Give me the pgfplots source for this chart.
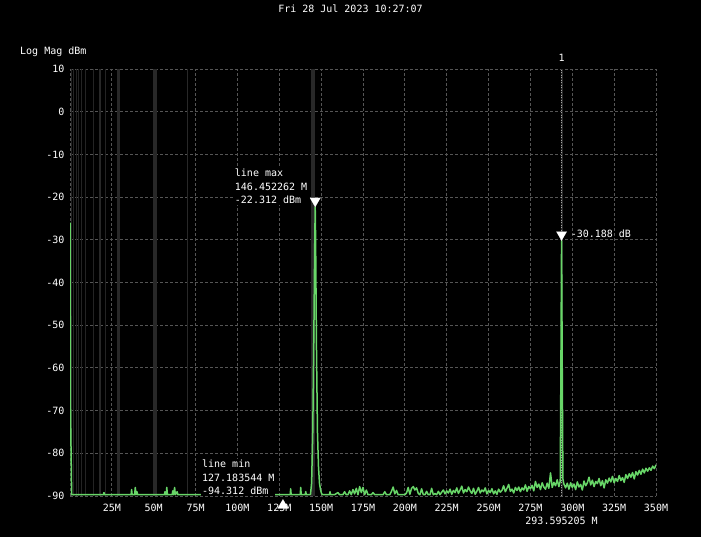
\documentclass[border=0pt]{standalone}
\usepackage{pgfplots}
\pgfplotsset{compat=1.18}
\usepackage{fontspec}
\setmainfont{DejaVu Sans Mono}
\definecolor{trace}{RGB}{104,214,104}
\definecolor{gridc}{RGB}{85,85,85}
\definecolor{band}{RGB}{40,40,40}
\definecolor{bandthin}{RGB}{36,36,36}
\begin{document}
\begin{tikzpicture}[font=\fontsize{10}{13.5}\selectfont]
\fill[black] (0,0) rectangle (701pt,537pt);
\begin{axis}[at={(70pt,41pt)}, anchor=south west, scale only axis,
  width=586pt, height=427pt,
  xmin=0, xmax=350, ymin=-90, ymax=10,
  xtick={0,25,50,75,100,125,150,175,200,225,250,275,300,325,350},
  xticklabels={,25M,50M,75M,100M,125M,150M,175M,200M,225M,250M,275M,300M,325M,350M},
  ytick={-90,-80,-70,-60,-50,-40,-30,-20,-10,0,10},
  yticklabels={-90,-80,-70,-60,-50,-40,-30,-20,-10,0,10},
  major tick length=0pt, axis line style={draw=none},
  grid=major, major grid style={gridc, dash pattern=on 3pt off 2pt, line width=0.8pt},
  tick label style={text=white, font=\fontsize{10}{12}\selectfont},
  xticklabel style={yshift=-5pt}, yticklabel style={xshift=-2pt},
  clip mode=individual,
]
% gray vertical bands
\addplot[bandthin, line width=1pt, forget plot] coordinates {(0.6,-90)(0.6,10)};
\addplot[bandthin, line width=1pt, forget plot] coordinates {(2.0,-90)(2.0,10)};
\addplot[bandthin, line width=1pt, forget plot] coordinates {(3.6,-90)(3.6,10)};
\addplot[bandthin, line width=1pt, forget plot] coordinates {(5.0,-90)(5.0,10)};
\addplot[bandthin, line width=1pt, forget plot] coordinates {(6.6,-90)(6.6,10)};
\addplot[bandthin, line width=1pt, forget plot] coordinates {(9.5,-90)(9.5,10)};
\addplot[bandthin, line width=1pt, forget plot] coordinates {(14.3,-90)(14.3,10)};
\addplot[band, line width=2pt, forget plot] coordinates {(17.9,-90)(17.9,10)};
\addplot[bandthin, line width=1pt, forget plot] coordinates {(21.0,-90)(21.0,10)};
\addplot[band, line width=3pt, forget plot] coordinates {(28.7,-90)(28.7,10)};
\addplot[band, line width=4pt, forget plot] coordinates {(50.9,-90)(50.9,10)};
\addplot[band, line width=1.5pt, forget plot] coordinates {(70.2,-90)(70.2,10)};
\addplot[band, line width=3.3pt, forget plot] coordinates {(145.2,-90)(145.2,10)};
\addplot[band, line width=2pt, forget plot] coordinates {(293.6,-90)(293.6,10)};
% marker 1 dotted line
\addplot[white!65!black, line width=0.8pt, dash pattern=on 1pt off 1.5pt, forget plot] coordinates {(293.595,-90)(293.595,10)};
% trace
\addplot[trace, line width=1.5pt, line join=round] coordinates {
(0,-26)(0.3,-70)(1,-89.7)(20,-89.7)(20.3,-89.2)(20.6,-89.7)
(36.5,-89.7)(36.8,-88.5)(37.1,-89.7)(38.6,-89.7)(39,-88)(39.4,-89.7)(40,-89)(40.4,-89.7)
(56.4,-89.7)(56.7,-89)(57.0,-89.7)(57.5,-89.7)(57.8,-88)(58.2,-89.7)(61,-89.7)(61.4,-88.8)(61.8,-89.7)(62.5,-88)(62.9,-89.7)(64,-89)(64.4,-89.7)
(80,-89.7)(80.3,-89.2)(80.6,-89.7)
(131.5,-89.7)(131.8,-88.3)(132.1,-89.7)(137.5,-89.7)(137.8,-88)(138.1,-89.7)(140.5,-89.7)(140.8,-89)(141.1,-89.7)(143.6,-89.7)
(144.3,-87)(145.0,-75)(145.7,-50)(146.2,-30)(146.452,-22.312)(146.7,-30)(147.2,-55)(147.8,-75)(148.4,-83)(149,-87)(149.6,-88.5)(150.3,-89.5)(151,-89.7)
(155,-89.7)(155.3,-89)(155.6,-89.7)(158,-89.7)(160,-89.2)(161,-89.7)(163,-89.7)(164,-89.0)
(165,-89.7)(166,-89.7)(167,-88.8)(168,-89.7)(169,-88.5)(170,-89.5)(171,-88.2)(172,-89.7)(173,-87.8)(174,-89.2)
(175,-88.0)(176,-89.7)(177,-88.6)(178,-89.7)(179,-89.7)(180,-89.7)(181,-89.2)(182,-89.7)(183,-89.7)(184,-89.7)
(185,-89.7)(186,-89.7)(187,-89.7)(188,-89.0)(189,-89.7)(190,-89.7)(191,-89.7)(192,-88.9)(193,-87.9)(194,-89.5)
(195,-88.7)(196,-89.7)(197,-89.7)(198,-89.7)(199,-89.7)(200,-89.7)(201,-89.3)(202,-88.0)(203,-89.6)(204,-88.2)
(205,-87.8)(206,-88.6)(207,-88.1)(208,-89.4)(209,-89.7)(210,-88.3)(211,-89.7)(212,-89.7)(213,-88.9)(214,-89.7)
(215,-89.7)(216,-88.2)(217,-89.7)(218,-89.4)(219,-89.7)(220,-88.9)(221,-89.7)(222,-89.1)(223,-88.6)(224,-89.5)
(225,-88.8)(226,-89.3)(227,-88.4)(228,-89.6)(229,-88.7)(230,-89.2)(231,-88.1)(232,-89.4)(233,-88.6)(234,-87.7)
(235,-89.3)(236,-88.5)(237,-89.0)(238,-87.9)(239,-88.8)(240,-89.4)(241,-88.2)(242,-89.6)(243,-88.9)(244,-88.0)
(245,-89.3)(246,-88.6)(247,-89.0)(248,-88.1)(249,-89.5)(250,-88.7)(251,-89.2)(252,-88.3)(253,-89.5)(254,-88.8)
(255,-89.6)(256,-88.4)(257,-89.1)(258,-88.7)(259,-87.6)(260,-89.0)(261,-88.2)(262,-87.3)(263,-88.9)(264,-88.4)
(265,-89.3)(266,-88.0)(267,-88.7)(268,-87.9)(269,-89.0)(270,-88.1)(271,-88.6)(272,-87.4)(273,-88.9)(274,-87.8)
(275,-88.3)(276,-87.5)(277,-88.8)(278,-86.6)(279,-88.0)(280,-87.2)(281,-88.5)(282,-86.9)(283,-87.9)(284,-88.4)
(285,-87.0)(286,-88.2)(287,-84.6)(288,-88.0)(289,-86.8)(290,-87.6)(291,-86.2)(292,-87.8)(292.8,-86.5)
(293.2,-60)(293.595,-30.188)(294.0,-60)(294.4,-86)(295,-87.2)(296,-88.1)(297,-87.0)(298,-88.4)(299,-86.9)
(300,-88.0)(301,-87.2)(302,-88.5)(303,-86.7)(304,-87.9)(305,-87.3)(306,-88.6)(307,-86.5)(308,-87.6)(309,-86.9)
(310,-85.6)(311,-87.4)(312,-86.3)(313,-87.8)(314,-86.6)(315,-87.1)(316,-85.9)(317,-87.6)(318,-86.4)(319,-88.1)
(320,-86.2)(321,-87.0)(322,-85.8)(323,-86.7)(324,-85.4)(325,-86.9)(326,-85.9)(327,-86.6)(328,-85.2)(329,-86.4)
(330,-85.7)(331,-86.8)(332,-85.0)(333,-85.9)(334,-84.8)(335,-85.6)(336,-84.5)(337,-86.0)(338,-84.3)(339,-85.1)
(340,-84.0)(341,-84.9)(342,-83.7)(343,-84.6)(344,-83.5)(345,-84.2)(346,-83.4)(347,-84.0)(348,-83.0)(349,-83.6)
(350,-82.7)
};
% markers
\addplot[only marks, mark=triangle*, mark size=6pt, mark options={fill=white, draw=white, line width=0.1pt, yshift=6pt, rotate=180}] coordinates {(146.452262,-22.312)};
\addplot[only marks, mark=triangle*, mark size=6pt, mark options={fill=white, draw=white, line width=0.1pt, yshift=6pt, rotate=180}] coordinates {(293.595205,-30.188)};
\addplot[only marks, mark=triangle*, mark size=6pt, mark options={fill=white, draw=white, line width=0.1pt, yshift=-9.3pt}] coordinates {(127.183544,-90)};
% annotations
\node[anchor=north west, align=left, fill=black, inner sep=1pt, text=white, font=\fontsize{10}{13.5}\selectfont] at (axis cs:97.8,-13.2) {line max\\146.452262 M\\-22.312 dBm};
\node[anchor=north west, align=left, fill=black, inner sep=1pt, text=white, font=\fontsize{10}{13.5}\selectfont] at (axis cs:78.2,-81.3) {line min\\127.183544 M\\-94.312 dBm};
\node[anchor=west, inner sep=1pt, text=white, xshift=8pt, yshift=7pt] at (axis cs:293.595205,-30.188) {-30.188 dB};
\node[text=white, inner sep=0pt, yshift=11.5pt] at (axis cs:293.595205,10) {1};
\node[text=white, inner sep=0pt, yshift=-25pt] at (axis cs:293.595205,-90) {293.595205 M};
\end{axis}
\node[text=white, inner sep=0pt] at (350.5pt,528pt) {Fri 28 Jul 2023 10:27:07};
\node[text=white, anchor=west, inner sep=0pt] at (20pt,485.3pt) {Log Mag dBm};
\pgfresetboundingbox
\useasboundingbox (0,0) rectangle (701pt,537pt);
\end{tikzpicture}
\end{document}
